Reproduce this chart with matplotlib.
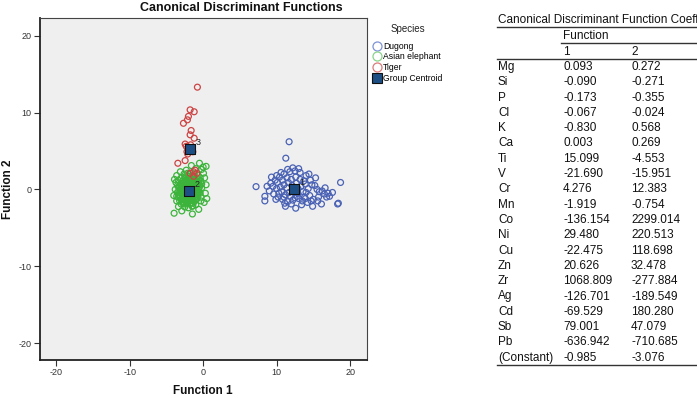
import matplotlib
matplotlib.use("Agg")
import matplotlib.pyplot as plt
from matplotlib.lines import Line2D

plt.rcParams['font.family'] = ['Liberation Sans', 'DejaVu Sans']
plt.rcParams['axes.unicode_minus'] = False

# ---------------- data ----------------
dugong_x = [11.7, 11.25, 18.7, 18.4, 7.2, 8.4, 8.4, 11.2, 12.6, 14.9, 16.1, 18.3, 17.6, 17.0, 16.5, 15.8,
            15.2, 14.6, 14.0, 13.2, 12.5, 11.8, 11.0, 10.4, 9.8, 9.2, 8.7, 9.0, 9.6, 10.2, 10.8, 11.5,
            12.2, 13.0, 13.8, 14.5, 15.0, 14.2, 13.4, 12.0, 11.1, 10.5, 11.0, 11.6, 12.1, 12.7, 13.3,
            13.9, 14.3, 13.6, 12.9, 12.3, 11.7, 11.2, 10.7, 10.0, 9.5, 10.1, 10.8, 11.4, 12.0, 12.6,
            13.2, 13.7, 14.8, 15.5, 16.2, 16.8, 15.7, 14.0, 12.4, 11.9, 12.8, 13.5, 10.3, 9.9, 11.4,
            12.9, 13.0, 12.2, 11.5, 10.6, 14.4, 15.3, 9.3, 10.0, 11.0, 12.5, 13.9, 14.7, 15.6, 16.6, 17.2]
dugong_y = [6.2, 4.06, 0.9, -1.8, 0.36, -0.9, -1.5, -2.2, -2.45, -2.2, -1.9, -1.9, -0.4, -0.5, -0.6, -0.3,
            0.5, 1.2, 1.8, 2.2, 2.4, 2.3, 2.0, 1.6, 1.2, 0.8, 0.4, -0.2, -0.6, -1.0, -1.3, -1.6,
            -1.4, -1.2, -1.0, -0.8, -1.3, -1.7, -2.0, -1.9, -1.8, 0.3, 0.6, 0.9, 0.5, 0.8, 0.4,
            0.7, 0.1, -0.3, -0.5, -0.2, -0.4, -0.7, -0.3, 0.1, 0.4, 0.9, 1.2, 1.5, 1.3, 1.6,
            1.3, 1.1, 0.6, 0.0, -0.2, -1.0, -1.0, -0.4, 0.0, -0.9, -0.9, -1.5, -0.5, -1.3, 0.2,
            0.1, 2.7, 2.8, 2.6, 2.2, 2.0, 1.5, 1.6, 1.8, -1.0, -1.1, -1.2, -1.5, -1.5, 0.2, -0.9]

elephant_x = [-3.2, -2.7, -2.2, -1.7, -1.2, -0.8, -3.4, -2.9, -2.4, -1.9, -1.4, -0.9, -0.6, -3.5, -3.0,
              -2.5, -2.0, -1.5, -1.0, -3.3, -2.8, -2.3, -1.8, -1.3, -0.8, -0.5, -3.1, -2.6, -2.1, -1.6,
              -1.1, -0.7, -2.8, -2.3, -1.8, -1.3, -0.9, -2.5, -2.0, -1.5, -3.0, -2.5, -2.0, -1.5, -1.0,
              -3.6, -3.8, -3.7, -0.3, -0.2, -0.3, -2.2, -1.7, -2.6, -1.2, -2.0, -1.4, -2.4, -2.9, -1.9,
              -2.7, -1.6, -2.3, -1.0, -1.6, -2.1,
              -3.0, -2.5, -2.0, -1.5, -1.0, -3.2, -2.7, -2.2, -1.7, -1.2, -0.8, -3.0, -2.5, -2.0, -1.5,
              -1.0, -0.6, -3.0, -2.6, -2.1, -1.6, -1.1, -0.6, -1.9, -2.4, -1.4, -2.1, -2.6, -3.3, -0.7,
              -1.2, -1.8, -2.3, -1.5, -2.0, -2.5, -2.9, -0.5, -0.4,
              -3.0, -2.6, -2.1, -1.2, -0.7, -0.3, -3.4, -3.5, -3.6, -0.2, -0.4,
              -2.85, -2.35, -1.85, -1.35, -3.15, -2.45, -1.95, -1.45, -0.95, -3.05, -2.55, -2.05, -1.55,
              -1.05, -0.75, -2.75, -2.25, -1.75, -1.25, -0.85, -2.45, -1.95, -1.45, -2.15, -1.65, -1.15,
              -2.85, -3.25, -0.65, -2.65,
              -0.5, 0.4, -3.1, 0.05, -3.95, -1.46, -3.36, 0.14, -1.4, 0.3, 0.4, 0.2, -0.2, -1.0, -2.3,
              -3.6, -4.0, -3.9, 0.5, -0.6, -2.9, 0.0, -1.6]
elephant_y = [-1.5, -1.8, -1.9, -1.8, -1.6, -1.2, -1.0, -1.1, -1.2, -1.1, -1.0, -0.7, -0.3, -0.4, -0.5,
              -0.6, -0.5, -0.4, -0.2, 0.2, 0.1, 0.0, 0.1, 0.2, 0.3, 0.6, 0.7, 0.6, 0.6, 0.7,
              0.8, 1.0, 1.1, 1.2, 1.2, 1.3, 1.5, 1.6, 1.7, 1.8, -1.9, -2.3, -2.4, -2.2, -2.0,
              -1.5, 0.0, 0.9, -1.0, 0.2, 1.1, -0.2, -0.3, -0.2, -0.6, 0.3, 0.5, 0.4, 0.4, -0.8,
              -0.9, -1.4, -1.5, 1.1, 1.0, 0.9,
              -1.3, -1.4, -1.3, -1.2, -1.3, -0.7, -0.7, -0.8, -0.7, -0.8, -0.9, -0.1, 0.2, -0.1, 0.0,
              0.1, 0.0, 0.4, 0.9, 1.2, 1.4, 1.4, 0.8, 1.5, 0.8, -1.8, -1.6, -1.9, -0.2, -0.6,
              0.5, 0.4, 0.6, -0.6, -0.9, -1.0, -0.3, 0.3, -0.5,
              1.5, 2.0, 2.1, 2.0, 1.8, -1.5, 1.2, 0.5, -0.9, 0.7, 1.5,
              -1.55, -1.65, -1.55, -1.45, -0.95, -0.35, -0.25, -0.15, -0.45, 0.15, 0.45, 0.75, 0.35,
              0.55, -0.15, 0.85, 1.05, 0.95, 1.05, 0.75, 1.45, 1.95, 1.55, -1.15, -0.95, -1.05,
              -0.45, 0.45, 1.25, -1.25,
              3.4, 3.0, 2.3, 2.1, -3.1, -3.2, -2.24, -1.7, -2.15, -0.5, 0.6, 1.5, 2.6, 2.7, 2.5,
              1.8, -0.8, 1.3, -1.2, -2.6, -2.8, 2.9, 3.1]

tiger_x = [-0.78, -1.77, -1.22, -2.0, -2.68, -2.14, -1.63, -1.77, -1.22, -2.45, -2.0, -2.2, -1.4,
           -2.45, -3.44, -1.32, -0.86, -1.77, -1.1, -2.3, -1.9, -1.5, -2.1, -1.7, -1.3]
tiger_y = [13.3, 10.35, 10.1, 9.5, 8.6, 9.05, 7.66, 7.1, 6.66, 5.9, 5.5, 4.9, 4.9,
           3.75, 3.4, 2.3, 2.1, 2.1, 2.5, 5.6, 5.0, 5.4, 4.6, 5.8, 1.7]

centroid_x = [12.4, -1.86, -1.77]
centroid_y = [0.07, -0.2, 5.27]
centroid_labels = ["1", "2", "3"]

species = ["Dugong", "Asian elephant", "Tiger", "Group Centroid"]

row_labels = ["Mg", "Si", "P", "Cl", "K", "Ca", "Ti", "V", "Cr", "Mn", "Co", "Ni", "Cu", "Zn",
              "Zr", "Ag", "Cd", "Sb", "Pb", "(Constant)"]
coef_f1 = ["0.093", "-0.090", "-0.173", "-0.067", "-0.830", "0.003", "15.099", "-21.690", "4.276",
           "-1.919", "-136.154", "29.480", "-22.475", "20.626", "1068.809", "-126.701", "-69.529",
           "79.001", "-636.942", "-0.985"]
coef_f2 = ["0.272", "-0.271", "-0.355", "-0.024", "0.568", "0.269", "-4.553", "-15.951", "12.383",
           "-0.754", "2299.014", "220.513", "118.698", "32.478", "-277.884", "-189.549", "180.280",
           "47.079", "-710.685", "-3.076"]

# ---------------- figure ----------------
W, H = 697, 398
fig = plt.figure(figsize=(W / 100, H / 100), dpi=100)
fig.patch.set_facecolor("white")

def fx(px):
    return px / W

def fy(py):
    return 1 - py / H

ax = fig.add_axes([fx(40), fy(360), fx(367) - fx(40), fy(18) - fy(360)])
ax.set_facecolor("#efefef")

blue = "#4a62b5"
green = "#3cb43c"
red = "#cc4444"
s = 18
ax.scatter(dugong_x, dugong_y, s=s, facecolors="none", edgecolors=blue, linewidths=0.9, zorder=2)
ax.scatter(elephant_x, elephant_y, s=s, facecolors="none", edgecolors=green, linewidths=0.9, zorder=3)
ax.scatter(tiger_x, tiger_y, s=s, facecolors="none", edgecolors=red, linewidths=0.9, zorder=4)
ax.scatter(centroid_x, centroid_y, s=48, marker="s", facecolors="#1d4f85", edgecolors="#111111",
           linewidths=0.8, zorder=5)
for cx, cy, lab in zip(centroid_x, centroid_y, centroid_labels):
    ax.annotate(lab, (cx, cy), xytext=(4, 3), textcoords="offset points", fontsize=6.5,
                color="#222222", zorder=6)

ax.set_xlim(-22.2, 22.3)
ax.set_ylim(-22.2, 22.3)
ax.set_xticks([-20, -10, 0, 10, 20])
ax.set_yticks([-20, -10, 0, 10, 20])
ax.tick_params(labelsize=6.5, colors="#333333", length=4, width=0.8, direction="out", pad=2)
for sp in ax.spines.values():
    sp.set_color("#444444")
    sp.set_linewidth(0.8)
ax.spines["left"].set_linewidth(1.3)
ax.spines["bottom"].set_linewidth(1.3)
ax.spines["left"].set_color("#222222")
ax.spines["bottom"].set_color("#222222")

fig.text(fx(241), fy(8), "Canonical Discriminant Functions", fontsize=9, fontweight="bold",
         ha="center", va="center", color="#111111")
fig.text(fx(203), fy(391), "Function 1", fontsize=8.5, fontweight="bold",
         ha="center", va="center", color="#111111")
fig.text(fx(8), fy(189), "Function 2", fontsize=8.5, fontweight="bold", rotation=90,
         ha="center", va="center", color="#111111")

handles = [
    Line2D([], [], marker="o", ls="none", markersize=6.5, markerfacecolor="none",
           markeredgecolor="#7d93d6", markeredgewidth=0.9),
    Line2D([], [], marker="o", ls="none", markersize=6.5, markerfacecolor="none",
           markeredgecolor="#8ad48a", markeredgewidth=0.9),
    Line2D([], [], marker="o", ls="none", markersize=6.5, markerfacecolor="none",
           markeredgecolor="#dd7a7a", markeredgewidth=0.9),
    Line2D([], [], marker="s", ls="none", markersize=6.5, markerfacecolor="#1d4f85",
           markeredgecolor="#111111", markeredgewidth=0.8),
]
fig.text(fx(408), fy(29), "Species", fontsize=7, ha="center", va="center", color="#222222")
leg = fig.legend(handles, species, loc="upper left", bbox_to_anchor=(fx(370), fy(40)),
                 frameon=False, fontsize=6.2, handletextpad=0.0, handlelength=1.3,
                 labelspacing=0.2, borderpad=0.2, borderaxespad=0.0)

# ---------------- table ----------------
tfs = 8.5
x_lab, x_c1, x_c2 = 498, 563, 631
fig.text(fx(x_lab), fy(23), "Canonical Discriminant Function Coefficients", fontsize=tfs,
         va="baseline", ha="left", color="#111111")
fig.add_artist(Line2D([fx(497), fx(697)], [fy(27), fy(27)], color="#333333", lw=1.0))
fig.text(fx(x_c1), fy(39), "Function", fontsize=tfs, va="baseline", ha="left", color="#111111")
fig.add_artist(Line2D([fx(561), fx(697)], [fy(43), fy(43)], color="#333333", lw=1.0))
fig.text(fx(x_c1), fy(55), "1", fontsize=tfs, va="baseline", ha="left", color="#111111")
fig.text(fx(x_c2), fy(55), "2", fontsize=tfs, va="baseline", ha="left", color="#111111")
fig.add_artist(Line2D([fx(497), fx(697)], [fy(58.5), fy(58.5)], color="#333333", lw=1.0))
row0, step = 70.0, 15.3
for i, (lab, a, b) in enumerate(zip(row_labels, coef_f1, coef_f2)):
    yb = row0 + i * step
    fig.text(fx(x_lab), fy(yb), lab, fontsize=tfs, va="baseline", ha="left", color="#111111")
    fig.text(fx(x_c1), fy(yb), a, fontsize=tfs, va="baseline", ha="left", color="#111111")
    fig.text(fx(x_c2), fy(yb), b, fontsize=tfs, va="baseline", ha="left", color="#111111")
fig.add_artist(Line2D([fx(497), fx(697)], [fy(364.5), fy(364.5)], color="#333333", lw=1.0))

fig.savefig("out.png", dpi=100)
